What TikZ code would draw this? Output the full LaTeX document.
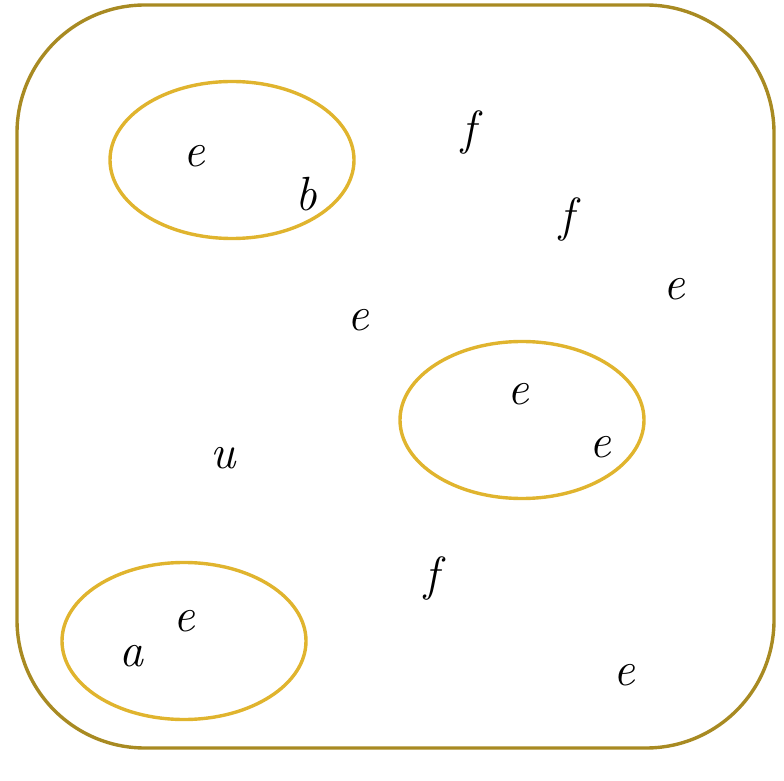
\documentclass[tikz,border=0pt]{standalone}
\usepackage{fontspec}
\usetikzlibrary{shapes.geometric}
\definecolor{outerc}{HTML}{A88A22}
\definecolor{ellc}{HTML}{E0B42E}
\tikzset{
  lbl/.style={inner sep=0pt, font=\fontsize{48}{54}\selectfont\itshape},
  grp/.style={draw=ellc, line width=3.4pt, ellipse, minimum width=244pt, minimum height=157pt, inner sep=0pt},
}
\begin{document}
\begin{tikzpicture}[x=1pt,y=1pt]
\useasboundingbox (0,0) rectangle (784,780);
\draw[outerc, line width=3.4pt, rounded corners=128pt] (17,32) rectangle (774,775);
\node[grp] (g1) at (232,620) {};
\node[grp] (g2) at (522,360) {};
\node[grp] (g3) at (184,139) {};
\node[lbl] (e1) at (194,624) {e};
\node[lbl] (b1) at (306,586) {b};
\node[lbl] (f1) at (469,647) {f};
\node[lbl] (f2) at (567,560) {f};
\node[lbl] (e2) at (674,491) {e};
\node[lbl] (e3) at (358,460) {e};
\node[lbl] (e4) at (518,386) {e};
\node[lbl] (e5) at (600,333) {e};
\node[lbl] (u1) at (223,322) {u};
\node[lbl] (f3) at (432,202) {f};
\node[lbl] (e6) at (184,159) {e};
\node[lbl] (a1) at (131,124) {a};
\node[lbl] (e7) at (624,105) {e};
\end{tikzpicture}
\end{document}
